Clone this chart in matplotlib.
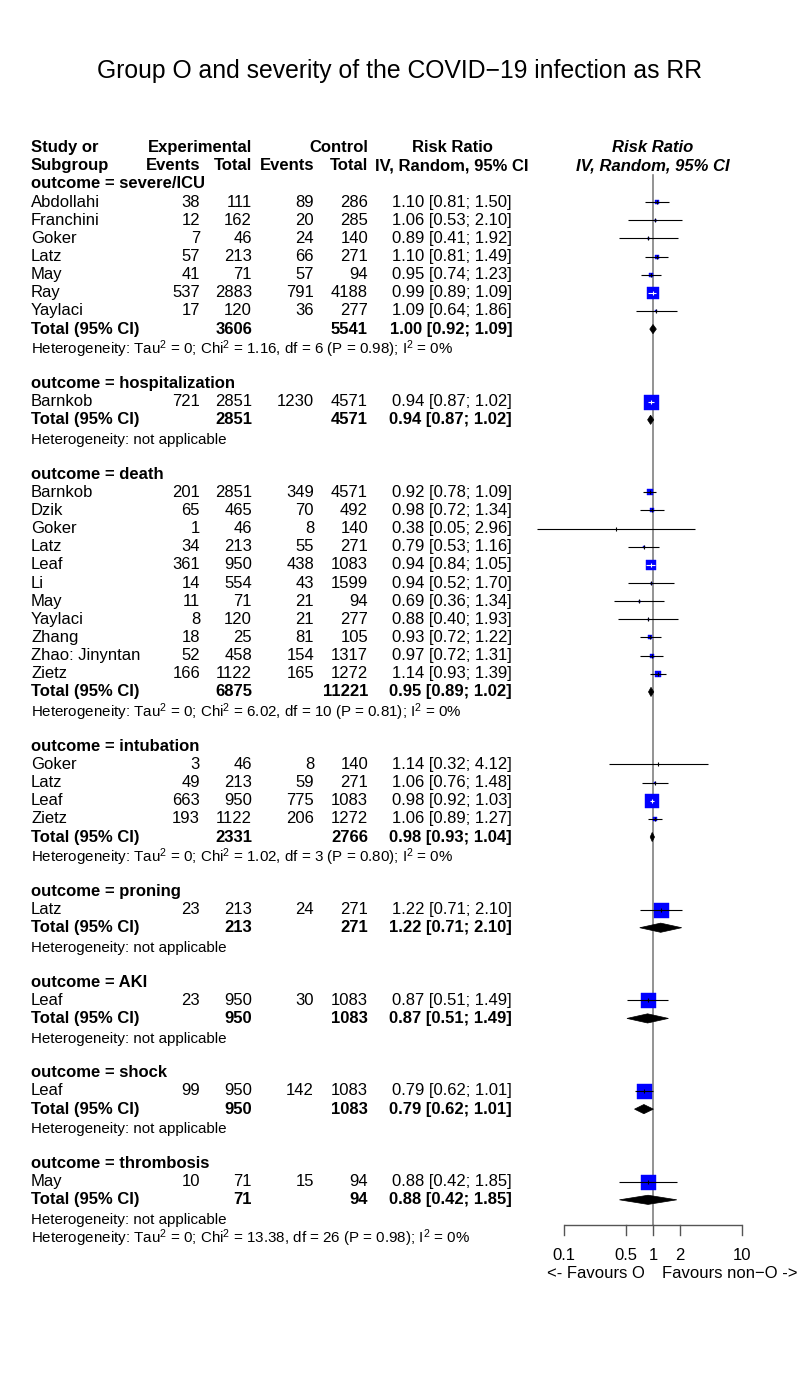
import numpy as np
import matplotlib
matplotlib.use("Agg")
import matplotlib.pyplot as plt
from matplotlib.patches import Polygon

plt.rcParams['font.family'] = ['Liberation Sans', 'DejaVu Sans']
plt.rcParams['mathtext.fontset'] = 'custom'
plt.rcParams['mathtext.rm'] = 'Liberation Sans'
plt.rcParams['mathtext.it'] = 'Liberation Sans:italic'
plt.rcParams['mathtext.bf'] = 'Liberation Sans:bold'

# ---------------- data ----------------
subgroups = ["severe/ICU", "hospitalization", "death", "intubation",
             "proning", "AKI", "shock", "thrombosis"]
study = ["Abdollahi", "Franchini", "Goker", "Latz", "May", "Ray", "Yaylaci",
         "Barnkob",
         "Barnkob", "Dzik", "Goker", "Latz", "Leaf", "Li", "May", "Yaylaci",
         "Zhang", "Zhao: Jinyntan", "Zietz",
         "Goker", "Latz", "Leaf", "Zietz",
         "Latz", "Leaf", "Leaf", "May"]
group = [0]*7 + [1] + [2]*11 + [3]*4 + [4, 5, 6, 7]
exp_ev = [38, 12, 7, 57, 41, 537, 17,
          721,
          201, 65, 1, 34, 361, 14, 11, 8, 18, 52, 166,
          3, 49, 663, 193,
          23, 23, 99, 10]
exp_n = [111, 162, 46, 213, 71, 2883, 120,
         2851,
         2851, 465, 46, 213, 950, 554, 71, 120, 25, 458, 1122,
         46, 213, 950, 1122,
         213, 950, 950, 71]
ctl_ev = [89, 20, 24, 66, 57, 791, 36,
          1230,
          349, 70, 8, 55, 438, 43, 21, 21, 81, 154, 165,
          8, 59, 775, 206,
          24, 30, 142, 15]
ctl_n = [286, 285, 140, 271, 94, 4188, 277,
         4571,
         4571, 492, 140, 271, 1083, 1599, 94, 277, 105, 1317, 1272,
         140, 271, 1083, 1272,
         271, 1083, 1083, 94]
rr = [1.10, 1.06, 0.89, 1.10, 0.95, 0.99, 1.09,
      0.94,
      0.92, 0.98, 0.38, 0.79, 0.94, 0.94, 0.69, 0.88, 0.93, 0.97, 1.14,
      1.14, 1.06, 0.98, 1.06,
      1.22, 0.87, 0.79, 0.88]
rr_lo = [0.81, 0.53, 0.41, 0.81, 0.74, 0.89, 0.64,
         0.87,
         0.78, 0.72, 0.05, 0.53, 0.84, 0.52, 0.36, 0.40, 0.72, 0.72, 0.93,
         0.32, 0.76, 0.92, 0.89,
         0.71, 0.51, 0.62, 0.42]
rr_hi = [1.50, 2.10, 1.92, 1.49, 1.23, 1.09, 1.86,
         1.02,
         1.09, 1.34, 2.96, 1.16, 1.05, 1.70, 1.34, 1.93, 1.22, 1.31, 1.39,
         4.12, 1.48, 1.03, 1.27,
         2.10, 1.49, 1.01, 1.85]

sub_exp_n = [3606, 2851, 6875, 2331, 213, 950, 950, 71]
sub_ctl_n = [5541, 4571, 11221, 2766, 271, 1083, 1083, 94]
sub_rr = [1.00, 0.94, 0.95, 0.98, 1.22, 0.87, 0.79, 0.88]
sub_lo = [0.92, 0.87, 0.89, 0.93, 0.71, 0.51, 0.62, 0.42]
sub_hi = [1.09, 1.02, 1.02, 1.04, 2.10, 1.49, 1.01, 1.85]
sub_chi2 = ["1.16", None, "6.02", "1.02", None, None, None, None]
sub_df = [6, None, 10, 3, None, None, None, None]
sub_p = ["0.98", None, "0.81", "0.80", None, None, None, None]
overall_het = ("13.38", 26, "0.98")

axis_ticks = [0.1, 0.5, 1, 2, 10]
axis_ticklabels = ["0.1", "0.5", "1", "2", "10"]
title = "Group O and severity of the COVID\u221219 infection as RR"
label_left = "<- Favours O"
label_right = "Favours non\u2212O ->"

# ---------------- layout ----------------
W, H = 800, 1383
Y0 = 147.7      # pixel y of row 0
ROW = 18.14     # pixels per row
top = -Y0 / ROW
bottom = (H - Y0) / ROW

fig = plt.figure(figsize=(W / 100, H / 100), dpi=100)
ax = fig.add_axes([0, 0, 1, 1])
ax.set_xlim(0, W)
ax.set_ylim(bottom, top)
ax.axis('off')

X_LO, X_HI = 564, 742   # pixel positions of 0.1 and 10
fx = fig.add_axes([X_LO / W, 0, (X_HI - X_LO) / W, 1])
fx.set_xscale('log')
fx.set_xlim(0.1, 10)
fx.set_ylim(bottom, top)
fx.axis('off')
PX_PER_DEC = (X_HI - X_LO) / 2.0

FS = 12
FS_HET = 10.9
C_LAB = 31
C_EE, C_EN, C_CE, C_CN, C_RR = 200, 252, 314, 368, 512
C_RRH = 452
VA = 'center'
HET_DY = 0.12

fig.text(0.5, 1 - 71 / H, title, ha='center', va='center', fontsize=17.8)

def t(x, y, s, ha='left', bold=False, italic=False, fs=FS):
    ax.text(x, y, s, ha=ha, va=VA, fontsize=fs,
            fontweight='bold' if bold else 'normal',
            fontstyle='italic' if italic else 'normal')

# headers
t(C_LAB, 0, "Study or", bold=True)
t(C_LAB, 1, "Subgroup", bold=True)
t(C_EN, 0, "Experimental", ha='right', bold=True)
t(C_CN, 0, "Control", ha='right', bold=True)
t(C_EE, 1, "Events", ha='right', bold=True)
t(C_EN, 1, "Total", ha='right', bold=True)
t(C_CE, 1, "Events", ha='right', bold=True)
t(C_CN, 1, "Total", ha='right', bold=True)
t(C_RRH, 0, "Risk Ratio", ha='center', bold=True)
t(C_RRH, 1, "IV, Random, 95% CI", ha='center', bold=True)
fx.text(1, 0, "Risk Ratio", ha='center', va=VA, fontsize=FS,
        fontweight='bold', fontstyle='italic')
fx.text(1, 1, "IV, Random, 95% CI", ha='center', va=VA, fontsize=FS,
        fontweight='bold', fontstyle='italic')

def het_text(chi, df, p):
    return ("Heterogeneity: Tau$^2$ = 0; Chi$^2$ = %s, df = %d (P = %s); I$^2$ = 0%%"
            % (chi, df, p))

def fmt(e, lo, hi):
    return "%.2f [%.2f; %.2f]" % (e, lo, hi)

MAXBOX = 15.0   # px, square side at 100% weight
DIA_H = 4.6 / ROW

row = 2
for g, name in enumerate(subgroups):
    t(C_LAB, row, "outcome = " + name, bold=True)
    row += 1
    idx = [i for i in range(len(study)) if group[i] == g]
    var = np.array([1.0 / exp_ev[i] - 1.0 / exp_n[i] + 1.0 / ctl_ev[i] - 1.0 / ctl_n[i]
                    for i in idx])
    w = 1.0 / var
    wpct = w / w.sum()
    for k, i in enumerate(idx):
        t(C_LAB, row, study[i])
        t(C_EE, row, str(exp_ev[i]), ha='right')
        t(C_EN, row, str(exp_n[i]), ha='right')
        t(C_CE, row, str(ctl_ev[i]), ha='right')
        t(C_CN, row, str(ctl_n[i]), ha='right')
        t(C_RR, row, fmt(rr[i], rr_lo[i], rr_hi[i]), ha='right')
        side = MAXBOX * np.sqrt(wpct[k])
        fx.plot([rr[i]], [row], marker='s', ms=side * 0.72, mfc='#0000ff',
                mec='#0000ff', mew=0.3, ls='none', zorder=3, clip_on=False)
        ci_px = (np.log10(rr_hi[i]) - np.log10(rr_lo[i])) * PX_PER_DEC
        col = 'white' if ci_px < side else 'black'
        fx.plot([rr_lo[i], rr_hi[i]], [row, row], color=col, lw=0.8,
                zorder=4, clip_on=False, solid_capstyle='butt')
        fx.plot([rr[i]], [row], marker='|', ms=5 * 0.72, mew=0.8, color=col,
                ls='none', zorder=4, clip_on=False)
        row += 1
    # total row
    t(C_LAB, row, "Total (95% CI)", bold=True)
    t(C_EN, row, str(sub_exp_n[g]), ha='right', bold=True)
    t(C_CN, row, str(sub_ctl_n[g]), ha='right', bold=True)
    t(C_RR, row, fmt(sub_rr[g], sub_lo[g], sub_hi[g]), ha='right', bold=True)
    dia = Polygon([(sub_lo[g], row), (sub_rr[g], row - DIA_H),
                   (sub_hi[g], row), (sub_rr[g], row + DIA_H)],
                  closed=True, facecolor='black', edgecolor='black', lw=0.5,
                  zorder=3, clip_on=False)
    fx.add_patch(dia)
    row += 1
    if sub_chi2[g] is None:
        t(C_LAB, row + HET_DY, "Heterogeneity: not applicable", fs=FS_HET)
    else:
        t(C_LAB, row + HET_DY, het_text(sub_chi2[g], sub_df[g], sub_p[g]), fs=FS_HET)
    row += 1
    if g < len(subgroups) - 1:
        row += 1

t(C_LAB, row + HET_DY, het_text(*overall_het), fs=FS_HET)

# reference line and axis
axis_row = (1225 - Y0) / ROW
tick_len = 10 / ROW
fx.plot([1, 1], [1.5, axis_row], color='#808080', lw=1.2, zorder=1, clip_on=False)
fx.plot([axis_ticks[0], axis_ticks[-1]], [axis_row, axis_row], color='#555555',
        lw=1.0, clip_on=False, solid_capstyle='butt')
for tk, tl in zip(axis_ticks, axis_ticklabels):
    fx.plot([tk, tk], [axis_row, axis_row + tick_len], color='#555555', lw=1.0,
            clip_on=False)
    fx.text(tk, (1256 - Y0) / ROW, tl, ha='center', va=VA, fontsize=FS)
ax.text(645, (1274 - Y0) / ROW, label_left, ha='right', va=VA, fontsize=FS)
ax.text(662, (1274 - Y0) / ROW, label_right, ha='left', va=VA, fontsize=FS)

fig.savefig("out.png", dpi=100)
